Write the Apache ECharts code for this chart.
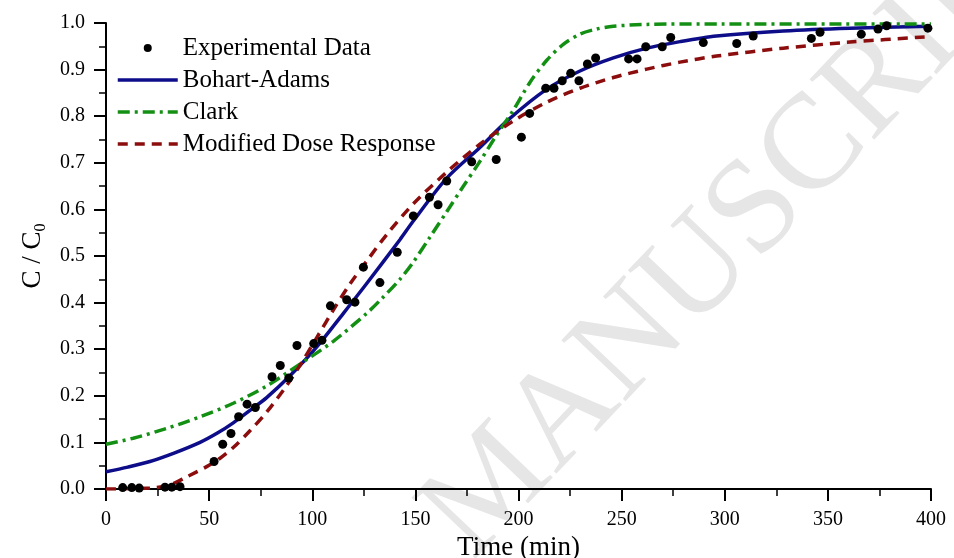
<!DOCTYPE html>
<html>
<head>
<meta charset="utf-8">
<script src="https://cdn.jsdelivr.net/npm/echarts@6/dist/echarts.min.js"></script>
<style>
  html, body { margin: 0; padding: 0; background: #fff; }
  #chart { width: 954px; height: 558px; }
</style>
</head>
<body>
<div id="chart"></div>
<script>
// experimental points (time in min, C/C0)
var expTime = [8.1, 12.5, 16.1, 28.6, 31.9, 35.9, 52.4, 56.6, 60.6, 64.3, 68.4, 72.4, 80.5, 84.5, 88.6, 92.6, 100.7, 104.7, 108.8, 116.7, 120.7, 124.8, 132.8, 141.2, 149, 156.8, 161, 165.2, 177.3, 189.2, 201.4, 205.4, 213.2, 217.2, 221.2, 225.3, 229.3, 233.4, 237.4, 253.4, 257.5, 261.7, 269.7, 273.8, 289.6, 305.8, 313.8, 342, 346.2, 366.2, 374.3, 378.5, 398.5]
var expC = [0.003, 0.003, 0.002, 0.004, 0.004, 0.005, 0.059, 0.096, 0.119, 0.155, 0.182, 0.175, 0.241, 0.265, 0.238, 0.308, 0.312, 0.319, 0.393, 0.406, 0.401, 0.476, 0.443, 0.508, 0.586, 0.626, 0.610, 0.661, 0.702, 0.707, 0.755, 0.806, 0.860, 0.860, 0.876, 0.892, 0.876, 0.912, 0.925, 0.923, 0.923, 0.949, 0.949, 0.969, 0.958, 0.956, 0.972, 0.967, 0.980, 0.976, 0.987, 0.994, 0.989]

// Bohart-Adams curve
var baTime = [0, 10.6, 21.3, 33, 45.6, 54, 61.7, 71.4, 77.9, 89.2, 102.2, 115.1, 126.4, 142.5, 149, 165.2, 181.3, 195, 213.7, 229.8, 246, 262.2, 278.3, 296, 328.4, 360.7, 400]
var baC = [0.037, 0.047, 0.059, 0.077, 0.100, 0.120, 0.142, 0.174, 0.196, 0.243, 0.305, 0.377, 0.441, 0.535, 0.575, 0.667, 0.733, 0.792, 0.858, 0.897, 0.925, 0.946, 0.960, 0.972, 0.983, 0.989, 0.993]

// Clark curve
var clTime = [0, 13.2, 29.4, 45.6, 61.7, 77.9, 94, 110.2, 126.4, 134, 142.5, 149, 157, 165.2, 173, 181.3, 189, 197.5, 205.6, 213.7, 221.7, 229.8, 237.9, 246, 262.2, 300, 350, 400]
var clC = [0.096, 0.109, 0.130, 0.155, 0.184, 0.221, 0.268, 0.317, 0.377, 0.410, 0.450, 0.487, 0.540, 0.595, 0.648, 0.703, 0.757, 0.813, 0.873, 0.920, 0.954, 0.976, 0.987, 0.993, 0.997, 0.998, 0.998, 0.998]

// Modified Dose Response curve
var mdTime = [0, 21.3, 31, 39.1, 48.8, 55.3, 61.7, 69.8, 77.9, 87.6, 94, 102.2, 110.2, 118.3, 126.4, 136.1, 149, 165.2, 181.3, 197.5, 213.7, 229.8, 246, 262.2, 278.3, 296, 328.4, 360.7, 400]
var mdC = [0.000, 0.002, 0.009, 0.026, 0.048, 0.066, 0.089, 0.125, 0.165, 0.222, 0.265, 0.325, 0.384, 0.440, 0.489, 0.546, 0.612, 0.680, 0.740, 0.790, 0.830, 0.860, 0.883, 0.901, 0.916, 0.929, 0.946, 0.959, 0.971]

var xTicks = [0, 50, 100, 150, 200, 250, 300, 350, 400]

function pairs (xs, ys) {
  return xs.map(function (x, i) { return [x, ys[i]] })
}

var font = '"Liberation Serif", "Times New Roman", serif'
var myChart = echarts.init(document.getElementById('chart'), null, { renderer: 'canvas' })

var axisCommon = {
  splitLine: { show: false },
  axisLine: { show: true, lineStyle: { color: '#000', width: 2 } },
  axisTick: { show: true, inside: false, length: 12, lineStyle: { color: '#000', width: 2 } },
  minorTick: { show: true, splitNumber: 2, length: 7, lineStyle: { color: '#000', width: 1.5 } },
  axisLabel: { color: '#000', fontFamily: font, fontSize: 20 }
}

var option = {
  backgroundColor: '#fff',
  animation: false,
  grid: { left: 106, right: 23, top: 23, bottom: 69, outerBoundsMode: 'none' },
  graphic: [{
    type: 'text',
    x: 447,
    y: 537,
    rotation: 0.81,
    z: 0,
    silent: true,
    style: {
      text: 'MANUSCRIPT',
      font: '135px "Liberation Serif"',
      fill: '#e6e6e6',
      textAlign: 'left',
      textVerticalAlign: 'middle'
    }
  }],
  legend: {
    orient: 'vertical',
    left: 111,
    top: 30,
    itemWidth: 60,
    itemHeight: 8,
    itemGap: 6,
    itemTextGap: 6,
    lineStyle: { width: 3.5 },
    textStyle: { color: '#000', fontFamily: font, fontSize: 25, lineHeight: 26 },
    data: [
      { name: 'Experimental Data', icon: 'circle' },
      { name: 'Bohart-Adams', itemStyle: { opacity: 0 } },
      { name: 'Clark', itemStyle: { opacity: 0 } },
      { name: 'Modified Dose Response', itemStyle: { opacity: 0 } }
    ]
  },
  xAxis: Object.assign({}, axisCommon, {
    type: 'value',
    min: 0,
    max: 400,
    interval: 50,
    name: 'Time (min)',
    nameLocation: 'middle',
    nameGap: 45,
    nameTextStyle: { color: '#000', fontFamily: font, fontSize: 27 },
    axisLabel: Object.assign({}, axisCommon.axisLabel, {
      margin: 21,
      formatter: function (v) { return xTicks.indexOf(v) >= 0 ? String(v) : '' }
    })
  }),
  yAxis: Object.assign({}, axisCommon, {
    type: 'value',
    min: 0,
    max: 1,
    interval: 0.1,
    name: 'C / C{s|0}',
    nameLocation: 'middle',
    nameGap: 52,
    nameTextStyle: {
      color: '#000', fontFamily: font, fontSize: 27,
      rich: { s: { fontFamily: font, fontSize: 16, color: '#000', padding: [16, 0, 0, 0] } }
    },
    axisLabel: Object.assign({}, axisCommon.axisLabel, {
      margin: 21,
      formatter: function (v) { return v.toFixed(1) }
    })
  }),
  series: [
    {
      name: 'Experimental Data',
      type: 'scatter',
      data: pairs(expTime, expC),
      symbol: 'circle',
      symbolSize: 9,
      itemStyle: { color: '#000', opacity: 1 },
      z: 5
    },
    {
      name: 'Bohart-Adams',
      type: 'line',
      data: pairs(baTime, baC),
      smooth: 0.3,
      symbol: 'none',
      itemStyle: { color: '#0d0d8a' },
      lineStyle: { color: '#0d0d8a', width: 3.5 }
    },
    {
      name: 'Clark',
      type: 'line',
      data: pairs(clTime, clC),
      smooth: 0.3,
      symbol: 'none',
      itemStyle: { color: '#139013' },
      lineStyle: { color: '#139013', width: 3.5, type: [12, 5, 3, 5] }
    },
    {
      name: 'Modified Dose Response',
      type: 'line',
      data: pairs(mdTime, mdC),
      smooth: 0.3,
      symbol: 'none',
      itemStyle: { color: '#8b0d0d' },
      lineStyle: { color: '#8b0d0d', width: 3.5, type: [10, 7] }
    }
  ]
}

myChart.setOption(option)
</script>
</body>
</html>
